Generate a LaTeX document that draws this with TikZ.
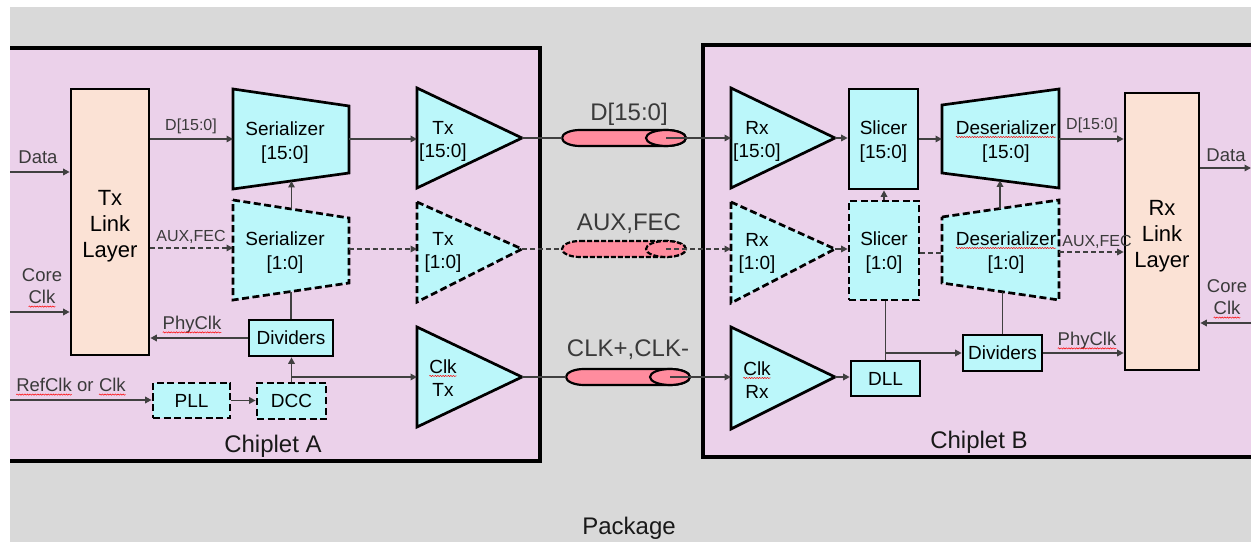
\documentclass[tikz,border=0pt]{standalone}
\usepackage{fontspec}
\setmainfont{Liberation Sans}
\usetikzlibrary{arrows.meta,decorations.pathmorphing}
\definecolor{pkg}{HTML}{D9D9D9}
\definecolor{chip}{HTML}{EBD1EA}
\definecolor{cyanb}{HTML}{BBF7FA}
\definecolor{peach}{HTML}{FBE2D5}
\definecolor{cablec}{HTML}{FF8C9E}
\definecolor{wire}{HTML}{404040}
\definecolor{lbl}{HTML}{3A3A3A}
\newcommand\sq[1]{\tikz[baseline=(sqt.base)]{\node[inner sep=0pt,outer sep=0pt,draw=none,fill=none,minimum size=0pt,anchor=base](sqt){#1};\draw[red,line width=0.5pt,decorate,decoration={snake,amplitude=0.6pt,segment length=2.6pt}]([yshift=-2.6pt]sqt.base west)--([yshift=-2.6pt]sqt.base east);}}
\begin{document}
\begin{tikzpicture}[x=1pt,y=-1pt,
  blk/.style={draw=black,line width=2.7pt,fill=cyanb},
  dsh/.style={dash pattern=on 7pt off 3.5pt},
  wr/.style={draw=wire,line width=1.6pt},
  ar/.style={wr,-{Triangle[length=6.5pt,width=6.5pt]}},
  bt/.style={font=\fontsize{19}{24}\selectfont,align=center,text=black,inner sep=0pt},
  tt/.style={font=\fontsize{19}{23}\selectfont,align=center,text=black,inner sep=0pt},
  lt/.style={font=\fontsize{22}{26}\selectfont,align=center,text=black,inner sep=0pt},
  lb/.style={font=\fontsize{18.5}{22.5}\selectfont,align=center,text=lbl,inner sep=0pt},
  sl/.style={font=\fontsize{16}{19}\selectfont,text=lbl,inner sep=0pt},
  cl/.style={font=\fontsize{24}{28}\selectfont,text=lbl,inner sep=0pt},
  bx/.style={blk,bt},
  cab/.style={draw=black,line width=2.2pt,fill=cablec},
]
\useasboundingbox (0,0) rectangle (1259,553);
\fill[white] (0,0) rectangle (1259,553);
\fill[pkg] (10,7) rectangle (1251,542);
% chiplets
\fill[chip] (10,48) rectangle (540,461);
\draw[line width=3.2pt] (10,48) -- (540,48) -- (540,461) -- (10,461);
\fill[chip] (703,45) rectangle (1251,457);
\draw[line width=3.2pt] (1251,45) -- (703,45) -- (703,457) -- (1251,457);
\node[cl,text=black!90] (chA) at (273,446) {Chiplet A};
\node[cl,text=black!90] (chB) at (979,442) {Chiplet B};
\node[cl,text=black!90] (pkgl) at (629,528) {Package};

% ---------- Chiplet A ----------
\node[blk,fill=peach,minimum width=78pt,minimum height=266pt] (txl) at (110,222) {};
\node[lt] (txlt) at (110,226) {Tx\\Link\\Layer};
\draw[blk] (233,89) -- (349,106) -- (349,173) -- (233,189) -- cycle;
\node[bt] (ser1) at (285,142.5) {Serializer\\{}[15:0]};
\draw[blk,dsh] (233,200) -- (349,218) -- (349,283) -- (233,300) -- cycle;
\node[bt] (ser0) at (285,252.5) {Serializer\\{}[1:0]};
\node[bx,minimum width=84pt,minimum height=36pt] (divA) at (291,338) {Dividers};
\node[bx,dsh,minimum width=77pt,minimum height=35pt] (pll) at (191.5,400.5) {PLL};
\node[bx,dsh,minimum width=69pt,minimum height=36pt] (dcc) at (291.5,401) {DCC};
\draw[blk] (417,88) -- (522,138) -- (417,188) -- cycle;
\node[tt] (tx1) at (443,141) {Tx\\{}[15:0]};
\draw[blk,dsh] (417,202) -- (522,249) -- (417,302) -- cycle;
\node[tt] (tx0) at (443,252) {Tx\\{}[1:0]};
\draw[blk] (417,327) -- (522,377) -- (417,427) -- cycle;
\node[tt] (txc) at (443,378) {\sq{Clk}\\Tx};

\coordinate (ser1W) at (233,139); \coordinate (ser1E) at (349,139); \coordinate (ser1S) at (291.5,181);
\coordinate (ser0W) at (233,248); \coordinate (ser0E) at (349,249); \coordinate (ser0N) at (291.5,209); \coordinate (ser0S) at (291,292);
\coordinate (tx1W) at (417,139); \coordinate (tx1E) at (522,138);
\coordinate (tx0W) at (417,249); \coordinate (tx0E) at (522,249);
\coordinate (txcW) at (417,377); \coordinate (txcE) at (522,377);
\coordinate (dIn) at (10,172); \coordinate (ccIn) at (10,312); \coordinate (refIn) at (10,400);

\draw[ar] (dIn) -- (txl.west |- dIn);
\node[lb] (ldata) at (38,157) {Data};
\draw[ar] (ccIn) -- (txl.west |- ccIn);
\node[lb] (lcc) at (42,288) {Core\\\sq{Clk}};
\draw[ar] (txl.east |- ser1W) -- (ser1W);
\node[sl] (ld1) at (191,126) {D[15:0]};
\draw[ar,dash pattern=on 5pt off 3pt] (txl.east |- ser0W) -- (ser0W);
\node[sl] (la1) at (191,237) {AUX,FEC};
\draw[ar] (divA.west) -- (txl.east |- divA.west);
\node[lb] (lphy) at (192,325) {\sq{PhyClk}};
\draw[ar] (refIn) -- (pll.west |- refIn);
\node[lb] (lref) at (71,387) {\sq{RefClk} or \sq{Clk}};
\draw[ar] (pll.east) -- (dcc.west |- pll.east);
\draw[ar] (dcc.north) -- (dcc.north |- divA.south);
\draw[ar] (dcc.north |- txcW) -- (txcW);
\draw[wr] (divA.north) -- (divA.north |- ser0S);
\draw[ar] (ser0N) -- (ser1S);
\draw[ar] (ser1E) -- (tx1W);
\draw[ar,dash pattern=on 5pt off 3pt] (ser0E) -- (tx0W);

% ---------- Cables ----------
\draw[cab] (580,130) -- (666,130) arc[start angle=90,end angle=-90,x radius=20pt,y radius=8pt] -- (580,146) arc[start angle=270,end angle=90,x radius=18pt,y radius=8pt] -- cycle;
\draw[cab] (666,138) ellipse[x radius=20pt,y radius=8pt];
\draw[cab,dash pattern=on 5pt off 2pt] (580,241) -- (666,241) arc[start angle=90,end angle=-90,x radius=20pt,y radius=8pt] -- (580,257) arc[start angle=270,end angle=90,x radius=18pt,y radius=8pt] -- cycle;
\draw[cab,dash pattern=on 5pt off 2pt] (666,249) ellipse[x radius=20pt,y radius=8pt];
\draw[cab] (584,369) -- (670,369) arc[start angle=90,end angle=-90,x radius=20pt,y radius=8pt] -- (584,385) arc[start angle=270,end angle=90,x radius=18pt,y radius=8pt] -- cycle;
\draw[cab] (670,377) ellipse[x radius=20pt,y radius=8pt];
\coordinate (cDl) at (562,138); \coordinate (cDr) at (666,138);
\coordinate (cAl) at (562,249); \coordinate (cAr) at (666,249);
\coordinate (cCl) at (566,377); \coordinate (cCr) at (670,377);
\node[cl] (lcD) at (629,114) {D[15:0]};
\node[cl] (lcA) at (629,224) {AUX,FEC};
\node[cl] (lcC) at (628,350) {CLK+,CLK-};

% ---------- Chiplet B ----------
\draw[blk] (731,88) -- (835,138) -- (731,188) -- cycle;
\node[tt] (rx1) at (757,141) {Rx\\{}[15:0]};
\draw[blk,dsh] (731,202) -- (835,249) -- (731,303) -- cycle;
\node[tt] (rx0) at (757,253) {Rx\\{}[1:0]};
\draw[blk] (731,327) -- (835,377) -- (731,429) -- cycle;
\node[tt] (rxc) at (757,380) {\sq{Clk}\\Rx};
\node[blk,minimum width=69pt,minimum height=100pt] (sl1) at (883.5,139) {};
\node[bt] (sl1t) at (883.5,141.5) {Slicer\\{}[15:0]};
\node[blk,dsh,minimum width=70pt,minimum height=99pt] (sl0) at (884,250.5) {};
\node[bt] (sl0t) at (884,253) {Slicer\\{}[1:0]};
\node[bx,minimum width=69pt,minimum height=35pt] (dll) at (885.5,378.5) {DLL};
\node[bx,minimum width=79pt,minimum height=36pt] (divB) at (1002.5,353) {Dividers};
\draw[blk] (942,105) -- (1059,89) -- (1059,188) -- (942,173) -- cycle;
\node[bt] (de1) at (1006,141.5) {\sq{Deserializer}\\{}[15:0]};
\draw[blk,dsh] (942,217) -- (1059,200) -- (1059,300) -- (942,283) -- cycle;
\node[bt] (de0) at (1006,252.5) {\sq{Deserializer}\\{}[1:0]};
\node[blk,fill=peach,minimum width=74pt,minimum height=277pt] (rxl) at (1162,231.5) {};
\node[lt] (rxlt) at (1162,236) {Rx\\Link\\Layer};

\coordinate (rx1W) at (731,138); \coordinate (rx1E) at (835,138);
\coordinate (rx0W) at (731,249); \coordinate (rx0E) at (835,249);
\coordinate (rxcW) at (731,377); \coordinate (rxcE) at (835,377);
\coordinate (de1W) at (942,139); \coordinate (de1E) at (1059,139); \coordinate (de1S) at (1000,180.4);
\coordinate (de0W) at (942,253); \coordinate (de0E) at (1059,252); \coordinate (de0N) at (1000,208.6); \coordinate (de0S) at (1002.5,291.8);
\coordinate (dOut) at (1251,168); \coordinate (ccInB) at (1251,323);

% tx -> cable -> rx
\draw[wr] (tx1E) -- (cDl);
\draw[ar] (cDr) -- (rx1W);
\draw[wr,dash pattern=on 5pt off 3pt] (tx0E) -- (cAl);
\draw[ar,dash pattern=on 5pt off 3pt] (cAr) -- (rx0W);
\draw[wr] (txcE) -- (cCl);
\draw[ar] (cCr) -- (rxcW);

\draw[ar] (rx1E) -- (sl1.west |- rx1E);
\draw[ar] (rx0E) -- (sl0.west |- rx0E);
\draw[ar] (rxcE) -- (dll.west |- rxcE);
\draw[ar] (sl0.north) -- (sl0.north |- sl1.south);
\draw[wr] (dll.north) -- (dll.north |- sl0.south);
\draw[ar] (dll.north |- divB.west) -- (divB.west);
\draw[ar] (sl1.east |- de1W) -- (de1W);
\draw[wr,dash pattern=on 5pt off 3pt] (sl0.east |- de0W) -- (de0W);
\draw[ar] (de0N) -- (de1S);
\draw[wr] (divB.north) -- (de0S);
\draw[ar] (de1E) -- (rxl.west |- de1E);
\node[sl] (ld2) at (1092,125) {D[15:0]};
\draw[ar,dash pattern=on 5pt off 3pt] (de0E) -- (rxl.west |- de0E);
\node[sl] (la2) at (1097,242) {AUX,FEC};
\draw[ar] (divB.east) -- (rxl.west |- divB.east);
\node[lb] (lphy2) at (1087,341) {\sq{PhyClk}};
\draw[ar] (rxl.east |- dOut) -- (dOut);
\node[lb] (ldata2) at (1226,155) {Data};
\draw[ar] (ccInB) -- (rxl.east |- ccInB);
\node[lb] (lcc2) at (1227,299) {Core\\\sq{Clk}};
\end{tikzpicture}
\end{document}
